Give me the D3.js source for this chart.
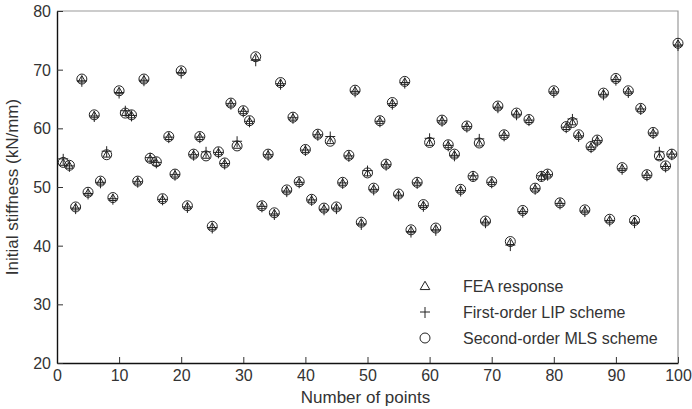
<!DOCTYPE html>
<html><head><meta charset="utf-8">
<script src="https://cdn.jsdelivr.net/npm/d3@7"></script>
<style>body{margin:0;background:#fff;}svg{display:block;}</style>
</head><body>
<svg id="c" width="692" height="409"></svg>
<script>
const xTicks = [0,10,20,30,40,50,60,70,80,90,100];
const yTicks = [20,30,40,50,60,70,80];
const feaValues = [54.2,53.7,46.6,68.4,49.1,62.3,51.0,55.6,48.2,66.4,
62.7,62.3,51.0,68.4,54.9,54.2,48.0,58.6,52.2,69.8,
46.8,55.6,58.6,55.4,43.3,56.0,54.1,64.3,57.1,63.0,
61.3,72.2,46.8,55.6,45.6,67.8,49.5,61.9,50.9,56.4,
47.9,59.0,46.4,57.9,46.6,50.8,55.4,66.5,44.0,52.4,
49.8,61.3,53.9,64.4,48.8,68.0,42.7,50.8,47.0,57.6,
43.0,61.4,57.2,55.6,49.6,60.4,51.8,57.5,44.2,50.9,
63.8,58.9,40.7,62.6,46.0,61.5,49.8,51.8,52.2,66.4,
47.3,60.3,61.1,58.9,46.1,56.9,58.0,66.0,44.5,68.5,
53.3,66.4,44.3,63.4,52.1,59.3,55.2,53.6,55.6,74.5];
const lipValues = [54.8,53.6,46.4,68.1,48.9,62.1,50.8,56.1,48.0,66.1,
63.0,62.2,50.9,68.2,55.0,54.2,47.9,58.5,52.1,69.5,
46.6,55.5,58.5,56.0,43.1,55.9,54.0,64.2,57.8,62.9,
61.2,71.6,46.7,55.5,45.4,67.6,49.3,61.8,50.8,56.3,
47.8,58.9,46.2,58.6,46.4,50.7,55.3,66.3,43.7,52.8,
49.6,61.2,53.8,64.2,48.6,67.8,42.4,50.7,46.8,58.3,
42.7,61.3,57.1,55.4,49.4,60.3,51.9,58.2,44.0,50.8,
63.6,58.8,40.1,62.4,45.8,61.4,49.7,51.9,52.1,66.2,
47.2,60.2,61.6,58.7,45.9,56.8,57.9,65.8,44.3,68.3,
53.1,66.2,44.0,63.3,52.0,59.2,56.0,53.5,55.6,74.2];
const mlsValues = [54.2,53.7,46.6,68.4,49.1,62.3,51.0,55.5,48.2,66.4,
62.6,62.3,51.0,68.4,54.9,54.3,48.0,58.6,52.2,69.8,
46.8,55.6,58.6,55.3,43.3,56.0,54.1,64.3,57.0,63.0,
61.3,72.2,46.8,55.6,45.6,67.8,49.5,61.9,50.9,56.4,
47.9,59.0,46.4,57.8,46.6,50.8,55.4,66.5,44.0,52.4,
49.8,61.3,53.9,64.4,48.8,68.0,42.7,50.8,47.0,57.6,
43.0,61.4,57.2,55.6,49.6,60.4,51.8,57.5,44.2,50.9,
63.8,58.9,40.7,62.6,46.0,61.5,49.8,51.8,52.2,66.4,
47.3,60.3,61.0,58.9,46.1,56.9,58.0,66.0,44.5,68.5,
53.3,66.4,44.3,63.4,52.1,59.3,55.3,53.6,55.6,74.5];
const seriesNames = ["FEA response","First-order LIP scheme","Second-order MLS scheme"];

const svg = d3.select("#c");
const L=57, R=678, T=11, B=363;
const x = d3.scaleLinear().domain([0,100]).range([L,R]);
const y = d3.scaleLinear().domain([20,80]).range([B,T]);
const ink = "#222";
const font = "Liberation Sans, Arial, sans-serif";

svg.append("path").attr("d",`M${L},${T}H${R}V${B}`).attr("fill","none").attr("stroke","#9a9a9a").attr("stroke-width",1.2);

const gx = svg.append("g").attr("transform",`translate(0,${B})`)
  .call(d3.axisBottom(x).tickValues(xTicks).tickSizeInner(-6).tickSizeOuter(0).tickPadding(4));
const gy = svg.append("g").attr("transform",`translate(${L},0)`)
  .call(d3.axisLeft(y).tickValues(yTicks).tickSizeInner(-6).tickSizeOuter(0).tickPadding(6));
[gx,gy].forEach(g=>{
  g.select(".domain").attr("stroke","#111").attr("stroke-width",1.4);
  g.selectAll(".tick line").attr("stroke","#333");
  g.selectAll(".tick text").attr("font-family",font).attr("font-size",16).attr("fill","#333");
});
gx.selectAll(".tick text").attr("dy","0.85em");
gy.selectAll(".tick text").attr("dy","0.35em");

svg.append("text").attr("x",(L+R)/2 - 2).attr("y",403).attr("text-anchor","middle")
  .attr("font-family",font).attr("font-size",17).attr("fill","#333").text("Number of points");
svg.append("text").attr("transform",`translate(18,${(T+B)/2}) rotate(-90)`).attr("text-anchor","middle")
  .attr("font-family",font).attr("font-size",17).attr("fill","#333").text("Initial stiffness (kN/mm)");

function drawTri(g, cx, cy, sz){ g.append("path").attr("d",d3.symbol().type(d3.symbolTriangle).size(sz||24)()).attr("transform",`translate(${cx},${cy+0.8})`).attr("fill","none").attr("stroke",ink).attr("stroke-width",1); }
function drawPlus(g, cx, cy){ g.append("path").attr("d",`M${cx-5},${cy}H${cx+5}M${cx},${cy-5}V${cy+6}`).attr("fill","none").attr("stroke",ink).attr("stroke-width",1); }
function drawCirc(g, cx, cy){ g.append("circle").attr("cx",cx).attr("cy",cy).attr("r",5).attr("fill","none").attr("stroke",ink).attr("stroke-width",1); }

const marks = svg.append("g");
feaValues.forEach((v,i)=>drawTri(marks, x(i+1), y(v)));
lipValues.forEach((v,i)=>drawPlus(marks, x(i+1), y(v)));
mlsValues.forEach((v,i)=>drawCirc(marks, x(i+1), y(v)));

const lg = svg.append("g");
const ly = [286, 312, 338];
drawTri(lg, 425, ly[0], 40);
drawPlus(lg, 425, ly[1]);
drawCirc(lg, 425, ly[2]);
seriesNames.forEach((s,i)=>{
  lg.append("text").attr("x",463).attr("y",ly[i]).attr("dy","0.35em")
    .attr("font-family",font).attr("font-size",16).attr("fill","#333").text(s);
});
</script>
</body></html>
